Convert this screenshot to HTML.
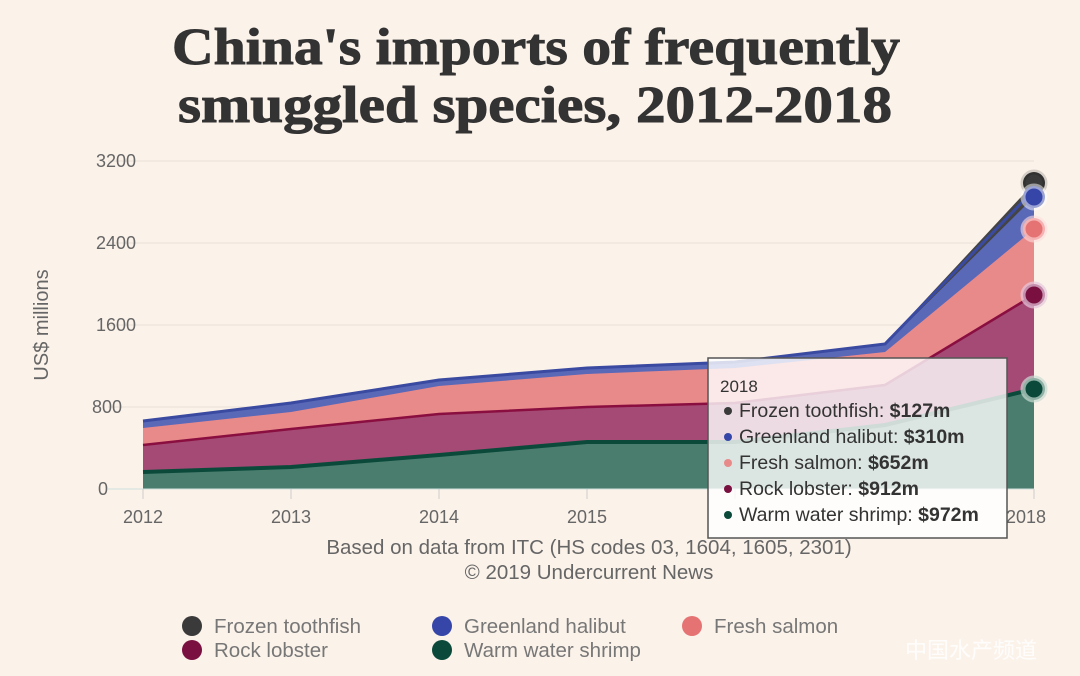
<!DOCTYPE html>
<html><head><style>
body{margin:0;background:#fbf2ea;}
svg{display:block;font-family:"Liberation Sans",sans-serif;}
</style></head><body>
<svg width="1080" height="676" viewBox="0 0 1080 676">
<rect width="1080" height="676" fill="#fbf2ea"/>
<text x="172" y="64" textLength="728" lengthAdjust="spacingAndGlyphs" font-family="Liberation Serif,serif" font-weight="bold" font-size="52" fill="#333" stroke="#333" stroke-width="1">China's imports of frequently</text>
<text x="178" y="122" textLength="714" lengthAdjust="spacingAndGlyphs" font-family="Liberation Serif,serif" font-weight="bold" font-size="52" fill="#333" stroke="#333" stroke-width="1">smuggled species, 2012-2018</text>
<g stroke="#e8e0d8" stroke-width="1">
<line x1="108" y1="161" x2="1034" y2="161"/><line x1="108" y1="243" x2="1034" y2="243"/>
<line x1="108" y1="325" x2="1034" y2="325"/><line x1="108" y1="407" x2="1034" y2="407"/>
</g>
<g font-size="18" fill="#666" text-anchor="end">
<text x="136" y="167">3200</text><text x="136" y="249">2400</text><text x="136" y="331">1600</text><text x="122" y="413">800</text><text x="108" y="495">0</text>
</g>
<text transform="translate(48,325) rotate(-90)" text-anchor="middle" font-size="20" fill="#666">US$ millions</text>
<polygon fill="#444" points="143,420 291,402 439,379 587,367 735,361 885,343 1034,183 1034,489 143,489"/>
<polygon fill="#5a68b8" points="143,422 291,404 439,381 587,369 735,363 885,345 1034,197 1034,489 143,489"/>
<polygon fill="#e98a8a" points="143,428 291,412 439,386 587,374 735,368 885,352 1034,229 1034,489 143,489"/>
<polygon fill="#a44a75" points="143,445 291,429 439,414 587,407 735,403 885,385 1034,295 1034,489 143,489"/>
<polygon fill="#4a7d6e" points="143,472 291,467 439,455 587,442 735,442 885,425 1034,389 1034,489 143,489"/>
<polyline fill="none" stroke="#3a4aa0" stroke-width="3" points="143,421 291,403 439,380 587,368 735,362 885,344 1034,190"/>
<polyline fill="none" stroke="#8a0f40" stroke-width="2.5" points="143,445 291,429 439,414 587,407 735,403 885,385 1034,295"/>
<polyline fill="none" stroke="#0b4a3a" stroke-width="4" points="143,472 291,467 439,455 587,442 735,442 885,425 1034,389"/>
<line x1="108" y1="489" x2="1034" y2="489" stroke="#cfe0dc"/>
<g stroke="#ccc"><line x1="143" y1="489" x2="143" y2="499"/><line x1="291" y1="489" x2="291" y2="499"/><line x1="439" y1="489" x2="439" y2="499"/><line x1="587" y1="489" x2="587" y2="499"/><line x1="735" y1="489" x2="735" y2="499"/><line x1="1034" y1="489" x2="1034" y2="499"/></g>
<g font-size="18" fill="#666" text-anchor="middle">
<text x="143" y="523">2012</text><text x="291" y="523">2013</text><text x="439" y="523">2014</text><text x="587" y="523">2015</text><text x="1026" y="523">2018</text>
</g>
<g stroke-width="5">
<circle cx="1034" cy="183" r="11" fill="#3a3a3a" stroke="rgba(0,0,0,0.15)"/>
<circle cx="1034" cy="197" r="11" fill="#3646a8" stroke="rgba(255,255,255,0.5)"/>
<circle cx="1034" cy="229" r="11" fill="#e57373" stroke="rgba(255,220,220,0.6)"/>
<circle cx="1034" cy="295" r="11" fill="#7a1040" stroke="rgba(230,200,220,0.7)"/>
<circle cx="1034" cy="389" r="11" fill="#0b4a3a" stroke="rgba(200,220,210,0.7)"/>
</g>
<rect x="708" y="358" width="299" height="180" fill="rgba(255,255,255,0.8)" stroke="#555" stroke-width="1.5"/>
<g font-size="19.5" fill="#333">
<text x="720" y="392" font-size="17">2018</text>
<circle cx="728" cy="411" r="4" fill="#3a3a3a"/><text x="739" y="417">Frozen toothfish: <tspan font-weight="bold">$127m</tspan></text>
<circle cx="728" cy="437" r="4" fill="#3646a8"/><text x="739" y="443">Greenland halibut: <tspan font-weight="bold">$310m</tspan></text>
<circle cx="728" cy="463" r="4" fill="#e98a8a"/><text x="739" y="469">Fresh salmon: <tspan font-weight="bold">$652m</tspan></text>
<circle cx="728" cy="489" r="4" fill="#7a1040"/><text x="739" y="495">Rock lobster: <tspan font-weight="bold">$912m</tspan></text>
<circle cx="728" cy="515" r="4" fill="#0b4a3a"/><text x="739" y="521">Warm water shrimp: <tspan font-weight="bold">$972m</tspan></text>
</g>
<g font-size="20.5" fill="#666" text-anchor="middle">
<text x="589" y="554">Based on data from ITC (HS codes 03, 1604, 1605, 2301)</text>
<text x="589" y="579">© 2019 Undercurrent News</text>
</g>
<g font-size="20.5" fill="#777">
<circle cx="192" cy="626" r="10" fill="#3a3a3a"/><text x="214" y="633">Frozen toothfish</text>
<circle cx="442" cy="626" r="10" fill="#3646a8"/><text x="464" y="633">Greenland halibut</text>
<circle cx="692" cy="626" r="10" fill="#e57373"/><text x="714" y="633">Fresh salmon</text>
<circle cx="192" cy="650" r="10" fill="#7a1040"/><text x="214" y="657">Rock lobster</text>
<circle cx="442" cy="650" r="10" fill="#0b4a3a"/><text x="464" y="657">Warm water shrimp</text>
</g>
<text x="905" y="658" font-family="Liberation Sans,'Noto Sans CJK SC',sans-serif" font-size="22" fill="#fff" opacity="0.9">中国水产频道</text>
</svg>
</body></html>
